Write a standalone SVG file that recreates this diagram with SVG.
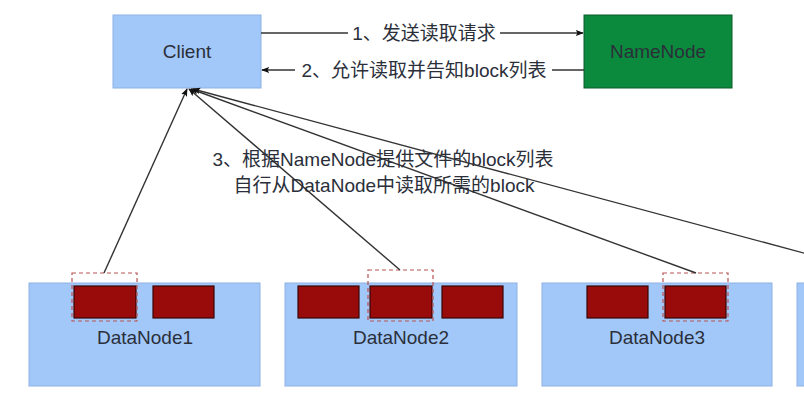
<svg xmlns="http://www.w3.org/2000/svg" width="804" height="401" viewBox="0 0 804 401">
<style>
.t{font-family:"Liberation Sans","Noto Sans CJK SC",sans-serif;font-size:19px;fill:#2b2f3a;text-anchor:middle}
.box{fill:#a2c8f9;stroke:#8db2e4;stroke-width:1}
.blk{fill:#990b0b;stroke:#3a0606;stroke-width:1.2}
.dash{fill:none;stroke:#b85450;stroke-width:1.2;stroke-dasharray:4 3}
.ln{stroke:#333;stroke-width:1.4;fill:none}
</style>
<defs>
<marker id="ah" viewBox="0 0 10 10" refX="9" refY="5" markerWidth="8" markerHeight="8" orient="auto" markerUnits="userSpaceOnUse">
<path d="M0,1 L10,5 L0,9 L2,5 Z" fill="#111"/>
</marker>
</defs>
<rect width="804" height="401" fill="#fff"/>
<g id="client"><rect class="box" x="113" y="15" width="148" height="73"/><text class="t" x="187" y="58">Client</text></g>
<g id="namenode"><rect x="584" y="15" width="148" height="73" fill="#0b8a3d" stroke="#0a5c2a"/><text class="t" x="658" y="58" fill="#1b2a22">NameNode</text></g>
<g id="datanode1"><rect class="box" x="29" y="283" width="231" height="103"/>
<rect class="blk" x="74" y="286" width="62" height="32"/><rect class="blk" x="153" y="286" width="61" height="32"/>
<rect class="dash" x="72" y="273" width="65" height="48"/>
<text class="t" x="145" y="344">DataNode1</text></g>
<g id="datanode2"><rect class="box" x="285" y="283" width="232" height="103"/>
<rect class="blk" x="298" y="286" width="61" height="32"/><rect class="blk" x="370" y="286" width="62" height="32"/><rect class="blk" x="442" y="286" width="61" height="32"/>
<rect class="dash" x="368" y="270" width="65" height="51"/>
<text class="t" x="401" y="344">DataNode2</text></g>
<g id="datanode3"><rect class="box" x="542" y="283" width="230" height="103"/>
<rect class="blk" x="587" y="286" width="61" height="32"/><rect class="blk" x="665" y="286" width="61" height="32"/>
<rect class="dash" x="663" y="273" width="65" height="48"/>
<text class="t" x="657" y="344">DataNode3</text></g>
<g id="datanode4"><rect class="box" x="797" y="283" width="231" height="103"/></g>
<g id="connectors">
<line class="ln" x1="261" y1="33" x2="583" y2="33" marker-end="url(#ah)"/>
<rect x="348" y="22" width="152" height="24" fill="#fff"/>
<text class="t" x="424" y="40">1、发送读取请求</text>
<line class="ln" x1="584" y1="70" x2="262" y2="70" marker-end="url(#ah)"/>
<rect x="295" y="58" width="257" height="24" fill="#fff"/>
<text class="t" x="424" y="77">2、允许读取并告知block列表</text>
<line class="ln" x1="104" y1="273" x2="187" y2="89" marker-end="url(#ah)"/>
<line class="ln" x1="400" y1="270" x2="189" y2="89" marker-end="url(#ah)"/>
<line class="ln" x1="696" y1="273" x2="191" y2="89" marker-end="url(#ah)"/>
<line class="ln" x1="878" y1="273" x2="193" y2="89" marker-end="url(#ah)"/>
<text class="t" x="383" y="166">3、根据NameNode提供文件的block列表</text>
<text class="t" x="384" y="192">自行从DataNode中读取所需的block</text>
</g>
</svg>
